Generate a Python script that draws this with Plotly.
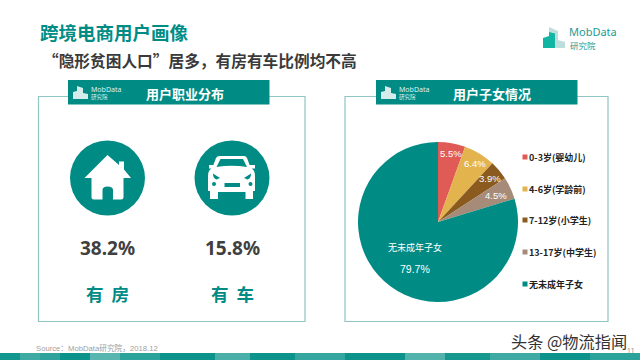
import plotly.graph_objects as go

categories = ["0-3岁(婴幼儿)", "4-6岁(学龄前)", "7-12岁(小学生)", "13-17岁(中学生)", "无未成年子女"]
shares = [5.5, 6.4, 3.9, 4.5, 79.7]
slice_colors = ["#E05B56", "#E3B44E", "#8A5A1F", "#A68C78", "#008C85"]
share_texts = ["5.5%", "6.4%", "3.9%", "4.5%", "79.7%"]
share_label_x = [451, 475, 490, 496, 415]
share_label_y = [153, 163, 178, 195, 269]
legend_y = [157, 189, 220, 252, 284]
stat_labels = ["有\u00a0\u00a0房", "有\u00a0\u00a0车"]
stat_values = ["38.2%", "15.8%"]
stat_x = [107.5, 232]

TEAL = "#008C85"
FONT = "Noto Sans CJK SC"
LATIN = "Liberation Sans, Noto Sans CJK SC"
EDGE = "#8FC5C2"

fig = go.Figure()
fig.add_trace(go.Pie(
    labels=categories, values=shares, sort=False, direction="clockwise", rotation=0,
    textinfo="none",
    marker=dict(colors=slice_colors, line=dict(width=0)),
    domain=dict(x=[358/640, 518/640], y=[1-302/360, 1-142/360]),
    showlegend=False, hoverinfo="label+percent",
))

shapes, ann = [], []

def rect(x0, y0, x1, y1, fill=None, line=None, w=1.0, layer="below"):
    shapes.append(dict(type="rect", x0=x0, y0=y0, x1=x1, y1=y1, xref="x", yref="y",
                       fillcolor=fill or "rgba(0,0,0,0)", layer=layer,
                       line=dict(color=line or "rgba(0,0,0,0)", width=w if line else 0)))

def circ(cx, cy, r, fill):
    shapes.append(dict(type="circle", x0=cx-r, y0=cy-r, x1=cx+r, y1=cy+r, xref="x", yref="y",
                       fillcolor=fill, line=dict(width=0), layer="below"))

def path(d, fill):
    shapes.append(dict(type="path", path=d, xref="x", yref="y", fillcolor=fill,
                       line=dict(width=0), layer="below"))

def text(x, y, s, size, color, anchor="left", bold=False, family=FONT):
    ann.append(dict(x=x, y=y, xref="x", yref="y", text=f"<b>{s}</b>" if bold else s,
                    showarrow=False, xanchor=anchor, yanchor="middle", borderpad=0, borderwidth=0,
                    font=dict(family=family, size=size, color=color)))

# panels
rect(38.5, 96.5, 305, 321.5, line=EDGE, w=1.2)
rect(345, 96.5, 608, 321.5, line=EDGE, w=1.2)
rect(68, 80, 269.5, 104.5, fill=TEAL)
rect(376, 80, 577.5, 104.5, fill=TEAL)

# small header logos
for ox in (0, 308):
    path(f"M{73+ox},99 L{73+ox},92 L{77+ox},91 L{77+ox},86 L{83+ox},88 L{83+ox},93 L{88+ox},94 L{88+ox},99 Z", "#D5ECEA")
    text(90.5+ox, 89.3, "MobData", 7, "#DFF1EF", family="Noto Sans")
    text(91+ox, 96.7, "研究院", 5.5, "#DFF1EF")
text(185, 93, "用户职业分布", 13, "white", "center", True)
text(492, 93, "用户子女情况", 13, "white", "center", True)

# footer strip
strip = [(0, 20, "#12978F"), (20, 40, "#3FAAA3"), (40, 60, "#2FA39B"), (60, 90, "#0C938B"),
         (90, 120, "#58B5AF"), (120, 160, "#2BA29A"), (160, 215, "#0C938B"), (215, 250, "#49AFA8"),
         (250, 295, "#0C938B"), (295, 345, "#34A69F"), (345, 405, "#0C938B"), (405, 445, "#51B3AC"),
         (445, 490, "#17988F"), (490, 540, "#3FAAA3"), (540, 590, "#0C938B"), (590, 640, "#2BA29A")]
for a, b, c in strip:
    rect(a, 353, b, 360, fill=c)

# house icon
circ(107.5, 178, 37.5, TEAL)
path("M107.5,155 L119,165 L119,161.5 L124,161.5 L124,169.5 L131,178 L123.5,178 L123.5,197 Q123.5,199.5 121,199.5 "
     "L113,199.5 L113,190 Q113,186.5 107.5,186.5 Q102.5,186.5 102.5,190 L102.5,199.5 L94,199.5 "
     "Q91.5,199.5 91.5,197 L91.5,178 L84.5,178 Z", "white")

# car icon
circ(232, 178, 37.5, TEAL)
path("M220,156 L244,156 Q246,156 247,158 L250,166 L254,171 Q255,173 255,176 L255,191 L253,191 L253,199 L245.5,199 "
     "L245.5,192 L218,192 L218,199 L210,199 L210,191 L208,191 L208,176 Q208,173 209,171 L213,166 L216,158 Q217,156 220,156 Z", "white")
rect(209, 165, 215, 168.5, fill="white")
rect(249, 165, 255, 168.5, fill="white")
path("M220.5,159 L243,159 L247,167 Q231.5,164.5 216.5,167 Z", TEAL)
path("M213,173.5 L220,178 L216.5,179.5 Q213,178.5 213,173.5 Z", TEAL)
path("M251,173.5 L244,178 L247.5,179.5 Q251,178.5 251,173.5 Z", TEAL)
rect(224.5, 183, 240, 187, fill=TEAL)
circ(214, 184, 2, TEAL)
circ(250.5, 184, 2, TEAL)

# top-right logo
path("M549,27 L558,31 L558,40 L565,42 L565,48 L549,48 Z", "#BDDFDB")
path("M543,38 L549,36 L549,32 L555,33.5 L555,48 L543,48 Z", "#12B5A3")
text(569, 31, "MobData", 11, "#1F9C93", family="Noto Sans")
text(569.5, 44.5, "研究院", 8.5, "#1F9C93")

# titles
text(39.5, 32, "跨境电商用户画像", 18.5, TEAL, bold=True)
text(43, 60, "“隐形贫困人口”居多，有房有车比例均不高", 15.7, "#3A3A3A", bold=True)

# stats
for x, v, l in zip(stat_x, stat_values, stat_labels):
    text(x, 248, v, 19, "#404040", "center", True, family="Noto Sans")
    text(x, 293, l, 17.5, TEAL, "center", True)

# pie labels
for s, x, y in zip(share_texts, share_label_x, share_label_y):
    text(x, y, s, 10.5 if s == "79.7%" else 9.5, "white", "center", family=LATIN)
text(415, 247, categories[4], 9, "white", "center")

# legend
for c, y, col in zip(categories, legend_y, slice_colors):
    rect(522.5, y-2.5, 527.5, y+2.5, fill=col)
    text(529, y, c, 9, "#222222", bold=True)

# source, watermark, page
text(35.5, 348, "Source：MobData研究院，2018.12", 7.7, "#A0A0A0", family=LATIN)
text(511, 341, "头条 @物流指闻", 16.2, "#333333")
text(630, 350, "11", 6.5, "#888888", "center", family="Noto Sans")

fig.update_layout(
    width=640, height=360, margin=dict(l=0, r=0, t=0, b=0),
    paper_bgcolor="white", plot_bgcolor="white", showlegend=False,
    xaxis=dict(range=[0, 640], visible=False, fixedrange=True),
    yaxis=dict(range=[360, 0], visible=False, fixedrange=True),
    shapes=shapes, annotations=ann,
)
fig.write_html("out.html", config=dict(displayModeBar=False),
               post_script="document.body.style.margin='0';document.body.style.overflow='hidden';")
